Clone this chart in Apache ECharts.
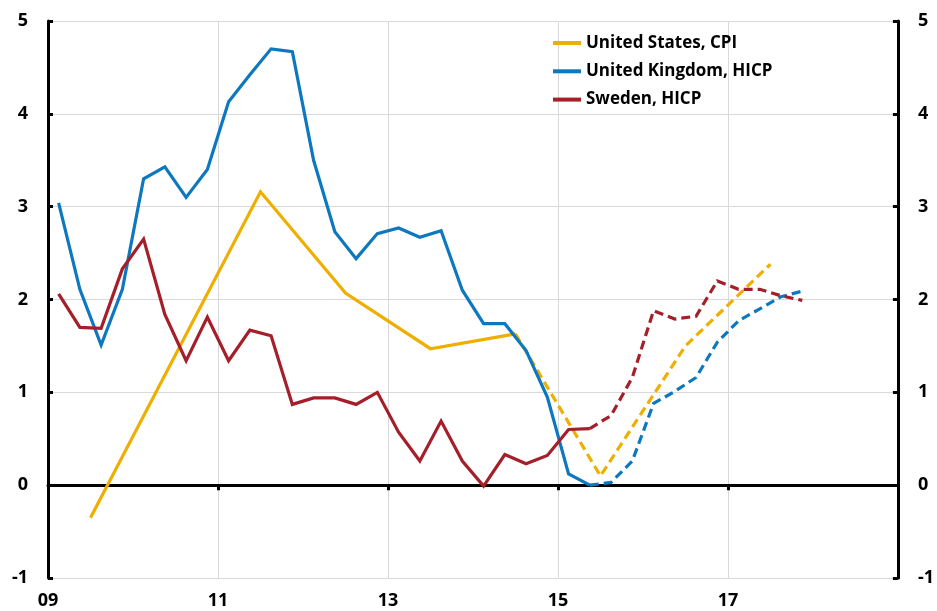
<!DOCTYPE html>
<html>
<head>
<meta charset="utf-8">
<script src="https://cdn.jsdelivr.net/npm/echarts@6/dist/echarts.min.js"></script>
<style>
html,body{margin:0;padding:0;background:#fff;}
#chart{width:937px;height:611px;}
</style>
</head>
<body>
<div id="chart"></div>
<script>
// ---- data ----
const quarters = [
  '2009Q1','2009Q2','2009Q3','2009Q4','2010Q1','2010Q2','2010Q3','2010Q4',
  '2011Q1','2011Q2','2011Q3','2011Q4','2012Q1','2012Q2','2012Q3','2012Q4',
  '2013Q1','2013Q2','2013Q3','2013Q4','2014Q1','2014Q2','2014Q3','2014Q4',
  '2015Q1','2015Q2','2015Q3','2015Q4','2016Q1','2016Q2','2016Q3','2016Q4',
  '2017Q1','2017Q2','2017Q3','2017Q4'
];
const ukHicp = [
  3.04, 2.11, 1.51, 2.11, 3.30, 3.43, 3.10, 3.40,
  4.13, 4.42, 4.70, 4.67, 3.50, 2.73, 2.44, 2.71,
  2.77, 2.67, 2.74, 2.10, 1.74, 1.74, 1.45, 0.95,
  0.12, 0.00, 0.03, 0.26, 0.88, 1.01, 1.16, 1.54,
  1.77, 1.90, 2.03, 2.09
];
const seHicp = [
  2.06, 1.70, 1.69, 2.33, 2.65, 1.84, 1.34, 1.81,
  1.34, 1.67, 1.61, 0.87, 0.94, 0.94, 0.87, 1.00,
  0.57, 0.26, 0.69, 0.26, -0.01, 0.33, 0.23, 0.32,
  0.60, 0.61, 0.75, 1.16, 1.88, 1.79, 1.82, 2.20,
  2.11, 2.11, 2.04, 1.99
];
const quarterForecastStart = '2015Q2';
const usYears = ['2009', '2011', '2012', '2013', '2014', '2015', '2016', '2017'];
const usCpi = [-0.35, 3.16, 2.07, 1.47, 1.63, 0.10, 1.50, 2.38];
const usForecastStart = '2014';
const xTickYears = [2009, 2011, 2013, 2015, 2017, 2019];
const seriesNames = ['United States, CPI', 'United Kingdom, HICP', 'Sweden, HICP'];

// ---- helpers ----
function qToX(q) { return +q.slice(0, 4) + (+q.slice(5) - 0.5) / 4; }
function yToX(y) { return +y + 0.5; }
function split(labels, values, conv, start) {
  const i = labels.indexOf(start);
  const pts = labels.map((l, k) => [conv(l), values[k]]);
  return { solid: pts.slice(0, i + 1), dashed: pts.slice(i) };
}
const us = split(usYears, usCpi, yToX, usForecastStart);
const uk = split(quarters, ukHicp, qToX, quarterForecastStart);
const se = split(quarters, seHicp, qToX, quarterForecastStart);

const colors = ['#EEAF00', '#0E78BE', '#A41F2A'];
const FONT = "'Open Sans', 'Noto Sans', sans-serif";

function lineSeries(name, data, color, dashed) {
  return {
    name: name, type: 'line', data: data, symbol: 'none',
    xAxisIndex: 0, yAxisIndex: 0,
    lineStyle: { color: color, width: 3.2, type: dashed ? [9, 5] : 'solid', cap: 'butt', join: 'miter' },
    itemStyle: { color: color },
    z: 3
  };
}

const yAxisBase = {
  type: 'value', min: -1, max: 5, interval: 1,
  axisLine: { show: true, onZero: false, lineStyle: { color: '#000', width: 3 } },
  axisTick: { show: true, inside: true, length: 5, lineStyle: { color: '#000', width: 3 } },
  axisLabel: { color: '#000', fontSize: 18, fontWeight: 'bold', fontFamily: FONT, margin: 20 }
};

const chart = echarts.init(document.getElementById('chart'), null, { renderer: 'canvas' });
chart.setOption({
  animation: false,
  backgroundColor: '#fff',
  color: colors,
  grid: { left: 48, right: 35, top: 21, bottom: 33, containLabel: false },
  legend: {
    data: seriesNames,
    orient: 'vertical',
    left: 553, top: 32,
    padding: 0,
    itemWidth: 28, itemHeight: 4, itemGap: 6.3,
    icon: 'rect',
    textStyle: { color: '#000', fontSize: 17, fontWeight: 'bold', fontFamily: FONT, lineHeight: 22 }
  },
  xAxis: [
    {
      type: 'value', min: xTickYears[0], max: xTickYears[xTickYears.length - 1], interval: 2,
      position: 'bottom',
      axisLine: { show: false, onZero: false },
      axisTick: { show: false },
      splitLine: { show: true, lineStyle: { color: '#d9d9d9', width: 1 } },
      axisLabel: {
        color: '#000', fontSize: 18, fontWeight: 'bold', fontFamily: FONT, margin: 14,
        formatter: v => (v === xTickYears[xTickYears.length - 1] ? '' : String(v).slice(2))
      }
    },
    {
      type: 'value', min: xTickYears[0], max: xTickYears[xTickYears.length - 1], interval: 2,
      axisLine: { show: true, onZero: true, onZeroAxisIndex: 0, lineStyle: { color: '#000', width: 3 } },
      axisTick: { show: true, inside: true, length: 5, lineStyle: { color: '#000', width: 3 } },
      axisLabel: { show: false },
      splitLine: { show: false }
    }
  ],
  yAxis: [
    Object.assign({}, yAxisBase, { position: 'left', splitLine: { show: true, lineStyle: { color: '#d9d9d9', width: 1 } } }),
    Object.assign({}, yAxisBase, { position: 'right', splitLine: { show: false } })
  ],
  series: [
    lineSeries(seriesNames[0], us.solid, colors[0], false),
    lineSeries(seriesNames[0] + ' (forecast)', us.dashed, colors[0], true),
    lineSeries(seriesNames[1], uk.solid, colors[1], false),
    lineSeries(seriesNames[1] + ' (forecast)', uk.dashed, colors[1], true),
    lineSeries(seriesNames[2], se.solid, colors[2], false),
    lineSeries(seriesNames[2] + ' (forecast)', se.dashed, colors[2], true)
  ]
});
</script>
</body>
</html>
